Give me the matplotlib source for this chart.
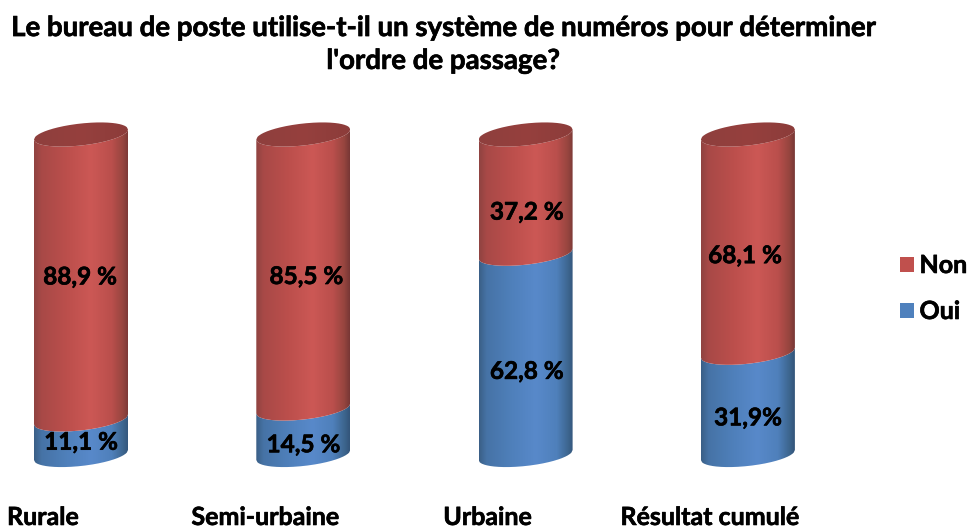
import numpy as np
import matplotlib
matplotlib.use("Agg")
import matplotlib.pyplot as plt
import matplotlib.patheffects as pe
from matplotlib.colors import LinearSegmentedColormap
from matplotlib.patches import PathPatch, Patch
from matplotlib.path import Path

# ---- data ----
categories = ["Rurale", "Semi-urbaine", "Urbaine", "Résultat cumulé"]
oui = [11.1, 14.5, 62.8, 31.9]
non = [88.9, 85.5, 37.2, 68.1]
oui_labels = ["11,1 %", "14,5 %", "62,8 %", "31,9%"]
non_labels = ["88,9 %", "85,5 %", "37,2 %", "68,1 %"]
title = "Le bureau de poste utilise-t-il un système de numéros pour déterminer\nl'ordre de passage?"

# ---- layout (pixels) ----
W, H = 968, 528
plt.rcParams["font.family"] = ["Lato", "DejaVu Sans"]
fig = plt.figure(figsize=(W / 100, H / 100), dpi=100)
px_x0, px_dx = 81.0, 222.3      # first cylinder centre, spacing
px_y0, px_y100 = 455.0, 134.5   # pixel rows of value 0 and 100
px_top, px_bot = 100.0, 490.0   # rows of the axes box
half_w_px, minor_px, tilt_px = 47.0, 11.0, 5.0
ax = fig.add_axes([0, 1 - px_bot / H, 1, (px_bot - px_top) / H])
ax.set_facecolor("none")
x_lo = -px_x0 / px_dx
x_hi = (W - px_x0) / px_dx
py = 100 / (px_y0 - px_y100)    # data units per pixel, vertical
half_w = half_w_px / px_dx
minor = minor_px * py
tilt = tilt_px * py
heavy = [pe.withStroke(linewidth=0.45, foreground="black")]

red_cm = LinearSegmentedColormap.from_list("r", [(0, "#8f4341"), (.08, "#a84947"), (.35, "#bc4f4c"),
                                                 (.6, "#cc5855"), (.82, "#ba4f4c"), (.94, "#96453f"), (1, "#773735")])
blue_cm = LinearSegmentedColormap.from_list("b", [(0, "#3a5f86"), (.08, "#4673a6"), (.35, "#4f80bb"),
                                                  (.6, "#5889ca"), (.82, "#4f80bb"), (.94, "#3d668f"), (1, "#33557a")])
cap_cm = LinearSegmentedColormap.from_list("c", ["#8e3f3d", "#96403e", "#8c3c3a"])
grad = np.linspace(0, 1, 256).reshape(1, -1)
t = np.linspace(-1, 1, 80)


def rim(cx, v):
    """front and back edges of the tilted ellipse at height v"""
    s = np.sqrt(1 - t ** 2)
    centre = v + tilt * t
    return cx + half_w * t, centre - minor * s, centre + minor * s


def paint(cm, path, xc, y0, y1, z):
    patch = PathPatch(path, transform=ax.transData, fc="none", ec="none")
    ax.add_patch(patch)
    im = ax.imshow(grad, cmap=cm, aspect="auto", extent=(xc - half_w, xc + half_w, y0, y1),
                   zorder=z, interpolation="bilinear")
    im.set_clip_path(patch)


def body(cx, v0, v1, cm, z):
    x, f0, _ = rim(cx, v0)
    _, f1, _ = rim(cx, v1)
    verts = np.r_[np.c_[x, f0], np.c_[x[::-1], f1[::-1]]]
    paint(cm, Path(np.r_[verts, verts[:1]]), cx, v0 - 2 * minor - tilt, v1 + 2 * minor + tilt, z)


for i, (o, n) in enumerate(zip(oui, non)):
    body(i, 0, o, blue_cm, 2)
    body(i, o, o + n, red_cm, 3)
    x, f, b = rim(i, o + n)
    cap = np.r_[np.c_[x, f], np.c_[x[::-1], b[::-1]]]
    paint(cap_cm, Path(np.r_[cap, cap[:1]]), i, 100 - 2 * minor, 100 + 2 * minor, 4)

# ---- data labels ----
oui_dx = [0, 0, 1, 0]
oui_dy = [-5, -13, -17, -14]
non_dx = [-1, 3, 1, -3]
non_dy = [0, -5, -18, -12]
for i in range(4):
    for val, lab, base, dx, dy in ((oui[i], oui_labels[i], 0, oui_dx[i], oui_dy[i]),
                                   (non[i], non_labels[i], oui[i], non_dx[i], non_dy[i])):
        ax.annotate(lab, (i, base + val / 2), xytext=(dx * .72, dy * .72), textcoords="offset points",
                    ha="center", va="center", fontsize=17.5, fontweight="bold", color="black", zorder=6,
                    path_effects=heavy)

ax.set_xlim(x_lo, x_hi)
ax.set_ylim((px_y0 - px_bot) * py, (px_y0 - px_top) * py)
for s in ax.spines.values():
    s.set_visible(False)
ax.set_yticks([])
ax.set_xticks(np.arange(4) - 38 / px_dx, categories)
ax.tick_params(axis="x", length=0, pad=11.5, labelsize=18)
for lab in ax.get_xticklabels():
    lab.set_fontweight("bold")
    lab.set_path_effects(heavy)

fig.text(443 / W, 1 - 44.5 / H, title, ha="center", va="center", fontsize=19.9, fontweight="bold",
         linespacing=1.33, path_effects=heavy)

handles = [Patch(fc="#c0504d", ec="none"), Patch(fc="#4f81bd", ec="none")]
leg = fig.legend(handles, ["Non", "Oui"], loc="center left", bbox_to_anchor=(900 / W, 1 - 288.5 / H), frameon=False,
                 prop={"size": 18, "weight": "bold"}, handlelength=.56, handleheight=.56, handletextpad=.22,
                 labelspacing=.92, borderpad=0, borderaxespad=0)
for txt in leg.get_texts():
    txt.set_path_effects(heavy)

fig.savefig("out.png", dpi=100)
